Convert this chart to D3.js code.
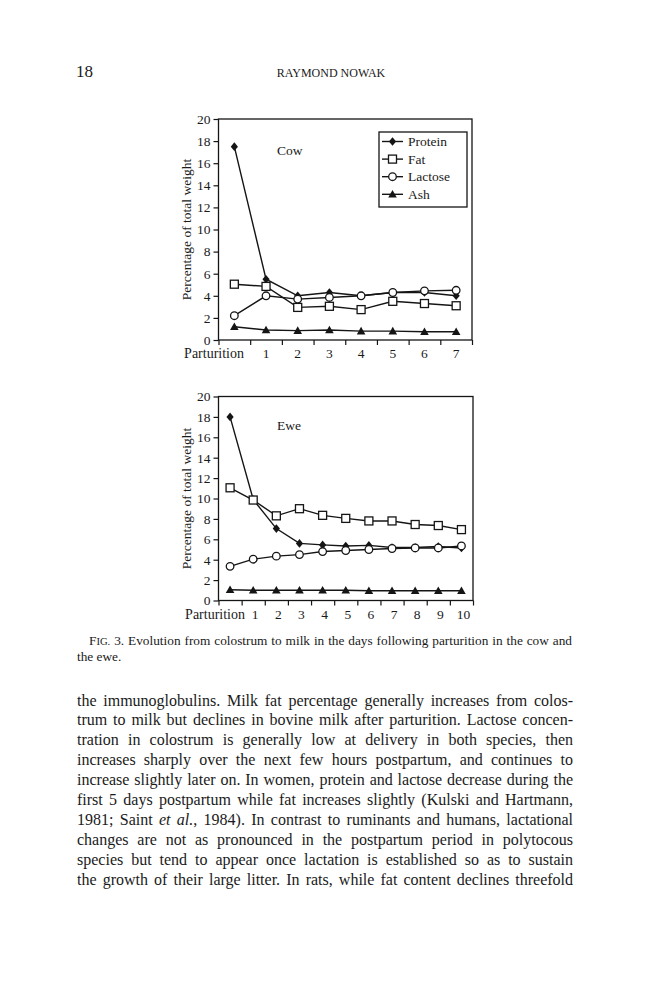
<!DOCTYPE html>
<html><head><meta charset="utf-8">
<script src="https://cdn.jsdelivr.net/npm/d3@7"></script>
<style>body{margin:0;background:#fff}svg{display:block}text{font-family:"Liberation Serif","Times New Roman",serif;fill:#1a1a1a}</style>
</head><body>
<svg id="s" width="666" height="1000"></svg>
<script>
// ---------- data ----------
const cowDays = [0,1,2,3,4,5,6,7];
const cowDayLabels = ["1","2","3","4","5","6","7"];
const cowProtein = [17.5, 5.5, 4.0, 4.3, 4.0, 4.3, 4.3, 4.0];
const cowFat     = [5.05, 4.85, 2.95, 3.05, 2.75, 3.5, 3.3, 3.1];
const cowLactose = [2.2, 4.0, 3.7, 3.85, 4.0, 4.3, 4.45, 4.5];
const cowAsh     = [1.2, 0.9, 0.85, 0.9, 0.8, 0.8, 0.75, 0.75];

const eweDays = [0,1,2,3,4,5,6,7,8,9,10];
const eweDayLabels = ["1","2","3","4","5","6","7","8","9","10"];
const eweProtein = [18.0, 9.9, 7.05, 5.6, 5.45, 5.35, 5.4, 5.2, 5.2, 5.3, 5.15];
const eweFat     = [11.05, 9.85, 8.3, 9.0, 8.35, 8.05, 7.8, 7.8, 7.45, 7.35, 6.95];
const eweLactose = [3.35, 4.05, 4.35, 4.5, 4.8, 4.9, 5.0, 5.1, 5.15, 5.15, 5.35];
const eweAsh     = [1.05, 1.0, 1.0, 1.0, 1.0, 1.0, 0.95, 0.95, 0.95, 0.95, 0.95];

const seriesNames = ["Protein","Fat","Lactose","Ash"];
const yTicks = [0,2,4,6,8,10,12,14,16,18,20];
const axisTitle = "Percentage of total weight";
const zeroLabel = "Parturition";

const headerPage = "18";
const headerAuthor = "RAYMOND NOWAK";
const captionLines = [
  "F^IG.^ 3. Evolution from colostrum to milk in the days following parturition in the cow and",
  "the ewe."
];
const bodyLines = [
  "the immunoglobulins. Milk fat percentage generally increases from colos-",
  "trum to milk but declines in bovine milk after parturition. Lactose concen-",
  "tration in colostrum is generally low at delivery in both species, then",
  "increases sharply over the next few hours postpartum, and continues to",
  "increase slightly later on. In women, protein and lactose decrease during the",
  "first 5 days postpartum while fat increases slightly (Kulski and Hartmann,",
  "1981; Saint _et_ _al._, 1984). In contrast to ruminants and humans, lactational",
  "changes are not as pronounced in the postpartum period in polytocous",
  "species but tend to appear once lactation is established so as to sustain",
  "the growth of their large litter. In rats, while fat content declines threefold"
];

// ---------- drawing ----------
const svg = d3.select("#s");
const INK = "#151515";

function marker(g, type, cx, cy) {
  if (type === "Protein") {
    g.append("path").attr("d", `M${cx},${cy-4.3}L${cx+3.6},${cy}L${cx},${cy+4.3}L${cx-3.6},${cy}Z`).attr("fill", INK);
  } else if (type === "Fat") {
    g.append("rect").attr("x", cx-4).attr("y", cy-4).attr("width", 8).attr("height", 8)
      .attr("fill", "#fff").attr("stroke", INK).attr("stroke-width", 1.3);
  } else if (type === "Lactose") {
    g.append("circle").attr("cx", cx).attr("cy", cy).attr("r", 3.8)
      .attr("fill", "#fff").attr("stroke", INK).attr("stroke-width", 1.3);
  } else {
    g.append("path").attr("d", `M${cx},${cy-4.3}L${cx+4.3},${cy+3.3}L${cx-4.3},${cy+3.3}Z`).attr("fill", INK);
  }
}

function chart(o) {
  const g = svg.append("g");
  const n = o.days.length;
  const x = d3.scaleLinear().domain([-0.5, n - 0.5]).range([o.x0, o.x1]);
  const y = d3.scaleLinear().domain([0, 20]).range([o.y0, o.y1]);

  const xa = g.append("g").attr("transform", `translate(0,${o.y0})`)
    .call(d3.axisBottom(x).tickValues(d3.range(-0.5, n, 1)).tickFormat("").tickSize(5).tickSizeOuter(0));
  const ya = g.append("g").attr("transform", `translate(${o.x0},0)`)
    .call(d3.axisLeft(y).tickValues(yTicks).tickSize(5).tickSizeOuter(0).tickPadding(3));
  [xa, ya].forEach(a => {
    a.select(".domain").remove();
    a.selectAll("line").attr("stroke", INK).attr("stroke-width", 1.2);
  });
  ya.selectAll("text").attr("font-size", 13.5).attr("fill", "#1a1a1a")
    .style("font-family", '"Liberation Serif",serif');

  g.append("rect").attr("x", o.x0).attr("y", o.y1).attr("width", o.x1 - o.x0).attr("height", o.y0 - o.y1)
    .attr("fill", "none").attr("stroke", INK).attr("stroke-width", 1.3);

  g.selectAll(".xl").data(o.labels).join("text").attr("class", "xl")
    .attr("x", (d, i) => x(i + 1) + o.labelDx).attr("y", o.y0 + 18)
    .attr("text-anchor", "middle").attr("font-size", 13.5).text(d => d);
  g.append("text").attr("x", o.partX).attr("y", o.y0 + 18).attr("text-anchor", "end")
    .attr("font-size", 14).text(zeroLabel);

  g.append("text").attr("transform", `translate(191,${(o.y0 + o.y1) / 2}) rotate(-90)`)
    .attr("text-anchor", "middle").attr("font-size", 13.5).text(axisTitle);

  g.append("text").attr("x", o.nameX).attr("y", o.nameY).attr("font-size", 13.5).text(o.name);

  const line = d3.line().x((d, i) => x(o.days[i])).y(d => y(d));
  o.series.forEach(s => {
    g.append("path").attr("d", line(s.v)).attr("fill", "none").attr("stroke", INK).attr("stroke-width", 1.4);
  });
  o.series.forEach(s => {
    s.v.forEach((v, i) => marker(g, s.name, x(o.days[i]), y(v)));
  });

  if (o.legend) {
    const L = o.legend;
    g.append("rect").attr("x", L.x).attr("y", L.y).attr("width", L.w).attr("height", L.h)
      .attr("fill", "#fff").attr("stroke", INK).attr("stroke-width", 1.3);
    seriesNames.forEach((nm, i) => {
      const cy = L.y + 9.5 + i * 17.6;
      g.append("line").attr("x1", L.x + 3).attr("x2", L.x + 24).attr("y1", cy).attr("y2", cy)
        .attr("stroke", INK).attr("stroke-width", 1.4);
      marker(g, nm, L.x + 13.5, cy);
      g.append("text").attr("x", L.x + 29).attr("y", cy + 4.5).attr("font-size", 13.5).text(nm);
    });
  }
}

chart({
  days: cowDays, labels: cowDayLabels, labelDx: 0, name: "Cow", nameX: 277, nameY: 155,
  x0: 218.5, x1: 472, y0: 340, y1: 119, partX: 244,
  series: [{name:"Protein", v: cowProtein}, {name:"Fat", v: cowFat}, {name:"Lactose", v: cowLactose}, {name:"Ash", v: cowAsh}],
  legend: {x: 379, y: 132, w: 88, h: 75}
});
chart({
  days: eweDays, labels: eweDayLabels, labelDx: 2, name: "Ewe", nameX: 277, nameY: 430,
  x0: 218.5, x1: 473, y0: 600.5, y1: 396.5, partX: 245,
  series: [{name:"Protein", v: eweProtein}, {name:"Fat", v: eweFat}, {name:"Lactose", v: eweLactose}, {name:"Ash", v: eweAsh}]
});

// ---------- text ----------
svg.append("text").attr("x", 76).attr("y", 77).attr("font-size", 17).text(headerPage);
svg.append("text").attr("x", 331).attr("y", 77).attr("text-anchor", "middle").attr("font-size", 12).text(headerAuthor);

function parseWord(w) {
  const segs = []; let cur = "", it = false, sc = false;
  for (const ch of w) {
    if (ch === "_" || ch === "^") {
      if (cur) segs.push({t: cur, it, sc}); cur = "";
      if (ch === "_") it = !it; else sc = !sc;
    } else cur += ch;
  }
  if (cur) segs.push({t: cur, it, sc});
  return segs;
}
function addWord(parent, segs, x, y, fs) {
  const t = parent.append("text").attr("x", x).attr("y", y).attr("font-size", fs);
  segs.forEach(s => {
    t.append("tspan").text(s.t).attr("font-style", s.it ? "italic" : null)
      .attr("font-size", s.sc ? fs * 0.8 : null);
  });
  return t;
}
function textLine(str, x0, x1, y, fs, justify) {
  const g = svg.append("g");
  const words = str.split(" ").map(parseWord);
  const nodes = words.map(w => addWord(g, w, 0, y, fs));
  const widths = nodes.map(n => n.node().getComputedTextLength());
  const sum = d3.sum(widths);
  const gap = justify && words.length > 1 ? (x1 - x0 - sum) / (words.length - 1) : fs * 0.25;
  let cx = x0;
  nodes.forEach((n, i) => { n.attr("x", cx); cx += widths[i] + gap; });
}

textLine(captionLines[0], 89, 572, 644.5, 13.3, true);
textLine(captionLines[1], 77, 572, 660.5, 13.3, false);

bodyLines.forEach((l, i) => textLine(l, 77, 573, 705.5 + i * 19.9, 16, true));
</script>
</body></html>
